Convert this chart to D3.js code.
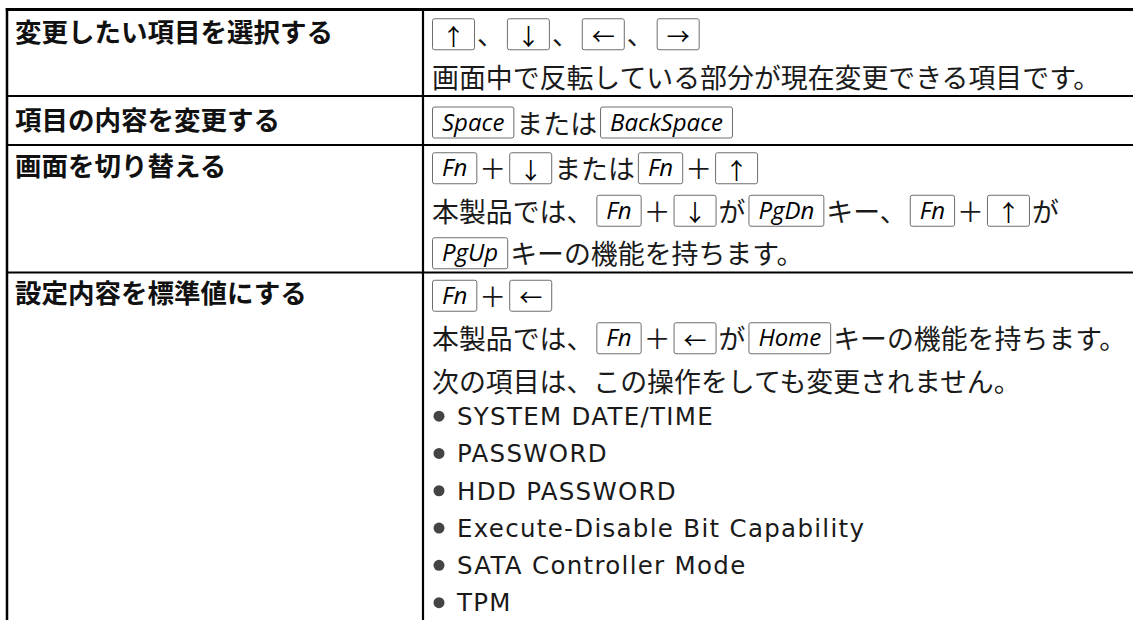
<!DOCTYPE html>
<html><head><meta charset="utf-8">
<script src="https://cdn.jsdelivr.net/npm/d3@7"></script>
<style>body{margin:0;background:#fff;} svg{display:block}</style>
</head><body><svg id="c" width="1133" height="620"></svg>
<script>
// ---- data ----
const rowLabels = ["変更したい項目を選択する", "項目の内容を変更する", "画面を切り替える", "設定内容を標準値にする"];
const row1Lines = ["[↑]、[↓]、[←]、[→]", "画面中で反転している部分が現在変更できる項目です。"];
const row2Lines = ["[Space]または[BackSpace]"];
const row3Lines = ["[Fn]＋[↓]または[Fn]＋[↑]", "本製品では、[Fn]＋[↓]が[PgDn]キー、[Fn]＋[↑]が", "[PgUp]キーの機能を持ちます。"];
const row4Lines = ["[Fn]＋[←]", "本製品では、[Fn]＋[←]が[Home]キーの機能を持ちます。", "次の項目は、この操作をしても変更されません。"];
const bulletItems = ["SYSTEM DATE/TIME", "PASSWORD", "HDD PASSWORD", "Execute-Disable Bit Capability", "SATA Controller Mode", "TPM"];
const rowContents = [row1Lines, row2Lines, row3Lines, row4Lines];

// ---- layout ----
const W = 1133, H = 620;
const LH = 42.5, BLH = 37.3, MINROW = 49;
const top0 = 11, xLeft = 7, xDiv = 423;
const xText = 432, xLabel = 15;
const JP = '"Noto Sans CJK JP", sans-serif';
const KEYF = '"Open Sans", "Noto Sans", sans-serif';
const GAP = 3;
const JPSIZE = 26.9;

const svg = d3.select("#c");
svg.append("rect").attr("width", W).attr("height", H).attr("fill", "#fff");

const rows = rowLabels.map((label, i) => {
  const lines = rowContents[i].map(s => ({kind: "jp", s}));
  if (i === 3) bulletItems.forEach(s => lines.push({kind: "bullet", s}));
  const content = d3.sum(lines, l => l.kind === "jp" ? LH : BLH);
  return {label, lines, content, h: Math.max(MINROW, content)};
});
let acc = top0;
rows.forEach(r => { r.top = acc; acc += r.h; });
const y = d3.scaleLinear().domain([0, 1]).range([0, 1]);

const gText = svg.append("g");
const gLines = svg.append("g");

function drawLine(g, str, x0, cy) {
  const parts = str.split(/(\[[^\]]+\])/).filter(p => p);
  let x = x0;
  parts.forEach((p, k) => {
    if (p.startsWith("[")) {
      const label = p.slice(1, -1);
      const isArrow = /[↑↓←→]/.test(label);
      if (k > 0) x += GAP;
      const rect = g.append("rect");
      const t = g.append("text").text(label).attr("fill", "#000");
      if (isArrow) {
        t.attr("font-family", JP).attr("font-size", 23).attr("dominant-baseline", "central").attr("y", cy + 1);
      } else {
        t.attr("font-family", KEYF).attr("font-style", "italic").attr("font-weight", 500)
          .attr("font-size", 24).attr("y", cy + 8.5);
      }
      const w = t.node().getComputedTextLength();
      const bw = Math.max(42, w + 19);
      rect.attr("x", x + 0.5).attr("y", cy - 15).attr("width", bw).attr("height", 31)
        .attr("rx", 2).attr("fill", "#fff").attr("stroke", "#6e6e6e").attr("stroke-width", 1);
      t.attr("x", x + bw / 2 + 0.5).attr("text-anchor", "middle");
      x += bw + GAP;
    } else {
      const t = g.append("text").attr("x", x).attr("y", cy).attr("dominant-baseline", "central")
        .attr("font-family", JP).attr("font-size", JPSIZE).attr("fill", "#1a1a1a").text(p);
      x += t.node().getComputedTextLength();
    }
  });
}

rows.forEach(r => {
  let cum = r.top + (r.h - r.content) / 2;
  r.lines.forEach((l, j) => {
    const h = l.kind === "jp" ? LH : BLH;
    const cy = y(cum + h / 2 + 1.5);
    if (l.kind === "jp") {
      drawLine(gText, l.s, xText, cy);
    } else {
      const cc = cy - 4;
      gText.append("circle").attr("cx", 439).attr("cy", cc).attr("r", 5.5).attr("fill", "#444");
      gText.append("text").attr("x", 457).attr("y", cc + 8.8)
        .attr("font-family", '"DejaVu Sans", sans-serif').attr("font-size", 24.5)
        .attr("letter-spacing", 1.3).attr("fill", "#1a1a1a").text(l.s);
    }
    cum += h;
  });
  gText.append("text").attr("x", xLabel).attr("y", y(r.top + (r.h - r.content) / 2 + LH / 2 - 2))
    .attr("dominant-baseline", "central").attr("font-family", JP).attr("font-weight", 700)
    .attr("font-size", 26.5).attr("fill", "#111").text(r.label);
});

// table rules
gLines.append("line").attr("x1", xLeft - 1.25).attr("x2", W).attr("y1", 9.5).attr("y2", 9.5)
  .attr("stroke", "#000").attr("stroke-width", 3);
gLines.append("line").attr("x1", xLeft).attr("x2", xLeft).attr("y1", 8).attr("y2", H)
  .attr("stroke", "#000").attr("stroke-width", 2.5);
gLines.append("line").attr("x1", xDiv).attr("x2", xDiv).attr("y1", 8).attr("y2", H)
  .attr("stroke", "#000").attr("stroke-width", 2.2);
gLines.selectAll("line.sep").data(rows.slice(0, -1)).join("line").attr("class", "sep")
  .attr("x1", xLeft).attr("x2", W).attr("y1", d => y(d.top + d.h)).attr("y2", d => y(d.top + d.h))
  .attr("stroke", "#000").attr("stroke-width", 2);
</script></body></html>
